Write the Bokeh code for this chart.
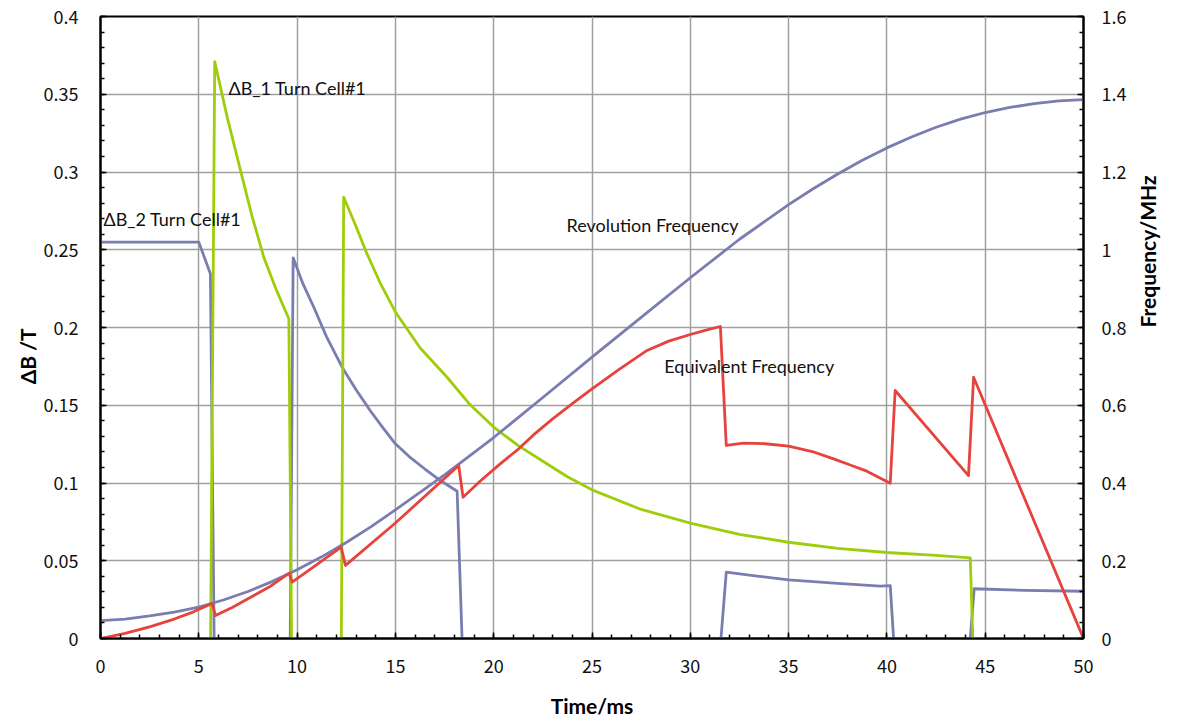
import math
from bokeh.plotting import figure
from bokeh.models import Range1d, LinearAxis, FixedTicker, Label
from bokeh.embed import file_html
from bokeh.resources import INLINE

# ---------------- data ----------------
# Time axis in ms, left axis dB in T, right axis frequency in MHz
b1_t = [0, 5.6, 5.81, 6.45, 7.12, 7.7, 8.31, 8.95, 9.58, 9.72, 12.25, 12.37, 13.0, 13.5, 14.25,
        15.0, 16.25, 17.63, 18.75, 20.0, 21.25, 22.5, 23.75, 25.0, 27.5, 30.0, 32.5, 35.0,
        37.5, 40.0, 42.5, 44.24, 44.37, 50]
b1_v = [0, 0, 0.371, 0.335, 0.301, 0.272, 0.245, 0.224, 0.2056, 0, 0, 0.2838, 0.265, 0.249, 0.228,
        0.210, 0.187, 0.168, 0.151, 0.136, 0.124, 0.114, 0.104, 0.0956, 0.083, 0.0742, 0.067, 0.0619,
        0.058, 0.0553, 0.0535, 0.0519, 0, 0]

b2_t = [0, 5.0, 5.59, 5.78, 9.65, 9.8, 10.3, 10.85, 11.5, 12.29, 13.0, 13.75, 14.4, 15.0, 15.7,
        16.5, 17.29, 18.14, 18.39, 31.56, 31.83, 33.5, 35.0, 37.5, 39.66, 40.17, 40.34, 44.24,
        44.44, 47.0, 50]
b2_v = [0.2549, 0.2549, 0.2345, 0, 0, 0.2448, 0.228, 0.213, 0.194, 0.1745, 0.160, 0.146, 0.135,
        0.1252, 0.117, 0.109, 0.1016, 0.0947, 0, 0, 0.0427, 0.040, 0.0377, 0.0355, 0.0337, 0.034,
        0, 0, 0.032, 0.031, 0.0304]

rf_t = [0, 1.25, 2.5, 3.75, 5, 6.25, 7.5, 8.75, 10, 11.25, 12.5, 13.75, 15, 17.5, 20, 22.5, 25,
        27.5, 30, 32.5, 35, 36.25, 37.5, 38.75, 40, 41.25, 42.5, 43.75, 45, 46.25, 47.5, 48.75, 50]
rf_v = [0.046, 0.05, 0.058, 0.068, 0.081, 0.099, 0.121, 0.147, 0.177, 0.21, 0.247, 0.287, 0.331,
        0.421, 0.517, 0.62, 0.724, 0.826, 0.928, 1.027, 1.116, 1.157, 1.195, 1.23, 1.262, 1.29,
        1.315, 1.336, 1.353, 1.366, 1.376, 1.383, 1.386]

ef_t = [0, 1.25, 2.5, 3.75, 4.7, 5.68, 5.85, 6.7, 7.5, 8.6, 9.6, 9.75, 11.0, 12.24, 12.46, 15.0,
        18.22, 18.44, 19.32, 20.3, 21.27, 22.1, 23.0, 24.0, 25.0, 26.4, 27.8, 28.9, 30.0, 30.8,
        31.53, 31.83, 32.7, 33.8, 35.0, 36.2, 37.29, 38.1, 38.98, 40.17, 40.42, 44.15, 44.41, 50]
ef_v = [0, 0.013, 0.03, 0.05, 0.068, 0.09, 0.059, 0.08, 0.102, 0.133, 0.168, 0.145, 0.19, 0.235,
        0.188, 0.297, 0.445, 0.3635, 0.405, 0.448, 0.488, 0.527, 0.565, 0.604, 0.642, 0.693, 0.741,
        0.765, 0.782, 0.793, 0.8026, 0.4965, 0.5025, 0.501, 0.4948, 0.481, 0.4622, 0.447, 0.4304,
        0.3995, 0.638, 0.419, 0.672, 0]

x_ticks = [0, 5, 10, 15, 20, 25, 30, 35, 40, 45, 50]
x_labels = ["0", "5", "10", "15", "20", "25", "30", "35", "40", "45", "50"]
yl_ticks = [0, 0.05, 0.1, 0.15, 0.2, 0.25, 0.3, 0.35, 0.4]
yl_labels = ["0", "0.05", "0.1", "0.15", "0.2", "0.25", "0.3", "0.35", "0.4"]
yr_ticks = [0, 0.2, 0.4, 0.6, 0.8, 1.0, 1.2, 1.4, 1.6]
yr_labels = ["0", "0.2", "0.4", "0.6", "0.8", "1", "1.2", "1.4", "1.6"]

series_names = ["ΔB_1 Turn Cell#1", "ΔB_2 Turn Cell#1", "Revolution Frequency", "Equivalent Frequency"]
x_title = "Time/ms"
yl_title = "ΔB /T"
yr_title = "Frequency/MHz"

# ---------------- styling ----------------
GREEN = "#9fcd0a"
BLUE = "#7a7db0"
RED = "#e6433c"
TICK_FONT = "Noto Sans CJK JP"
ANN_FONT = "Lato"

p = figure(width=1177, height=720, output_backend="svg", toolbar_location=None,
           x_range=Range1d(0, 50), y_range=Range1d(0, 0.4),
           min_border_left=100, min_border_right=94, min_border_top=16, min_border_bottom=82)
p.extra_y_ranges = {"freq": Range1d(0, 1.6)}
p.background_fill_color = "white"
p.border_fill_color = "white"
p.outline_line_color = "black"
p.outline_line_width = 2

xa = p.xaxis[0]
xa.ticker = FixedTicker(ticks=x_ticks, minor_ticks=[float(i) for i in range(0, 51)])
xa.major_label_overrides = {t: s for t, s in zip(x_ticks, x_labels)}
ya = p.yaxis[0]
ya.ticker = FixedTicker(ticks=yl_ticks, minor_ticks=[round(0.01 * i, 3) for i in range(0, 41)])
ya.major_label_overrides = {t: s for t, s in zip(yl_ticks, yl_labels)}

yr = LinearAxis(y_range_name="freq")
yr.ticker = FixedTicker(ticks=yr_ticks, minor_ticks=[round(0.04 * i, 3) for i in range(0, 41)])
yr.major_label_overrides = {t: s for t, s in zip(yr_ticks, yr_labels)}
p.add_layout(yr, "right")

for ax, so in ((xa, 20), (ya, 22), (yr, 18)):
    ax.axis_line_color = "black"
    ax.axis_line_width = 2
    ax.major_tick_in = 6
    ax.major_tick_out = 0
    ax.minor_tick_in = 4
    ax.minor_tick_out = 0
    ax.major_tick_line_color = "black"
    ax.major_tick_line_width = 1.5
    ax.minor_tick_line_color = "black"
    ax.minor_tick_line_width = 1.5
    ax.major_label_text_font = TICK_FONT
    ax.major_label_text_font_size = "18px"
    ax.major_label_text_color = "#111111"
    ax.major_label_standoff = so
    ax.axis_label_text_font = ANN_FONT
    ax.axis_label_text_font_style = "bold"
    ax.axis_label_text_font_size = "21px"
    ax.axis_label_text_color = "black"

xa.axis_label = x_title
xa.axis_label_standoff = 17
# trailing spaces push the visible title down, as in the reference
ya.axis_label = yl_title + "\u2003\u2003\u2003\u2002"
ya.axis_label_standoff = 1
yr.axis_label = yr_title
yr.axis_label_standoff = 18
yr.axis_label_orientation = math.pi / 2

p.xgrid.ticker = FixedTicker(ticks=x_ticks)
p.ygrid.ticker = FixedTicker(ticks=yl_ticks)
for g in (p.xgrid[0], p.ygrid[0]):
    g.grid_line_color = "#a0a0a0"
    g.grid_line_width = 1.5

# ---------------- series ----------------
p.line(b2_t, b2_v, line_color=BLUE, line_width=2.8, line_join="round")
p.line(b1_t, b1_v, line_color=GREEN, line_width=2.8, line_join="round")
p.line(rf_t, rf_v, line_color=BLUE, line_width=2.8, line_join="round", y_range_name="freq")
p.line(ef_t, ef_v, line_color=RED, line_width=2.8, line_join="round", y_range_name="freq")

# ---------------- annotations ----------------
ann_pos = [(6.51, 0.3537), (0.15, 0.270), (23.7, 0.2656), (28.68, 0.175)]
for name, (ax_, ay_) in zip(series_names, ann_pos):
    p.add_layout(Label(x=ax_, y=ay_, text=name, text_font=ANN_FONT, text_font_size="18px",
                       text_color="#111111", text_align="left", text_baseline="middle"))

open("out.html", "w").write(file_html(p, INLINE))
